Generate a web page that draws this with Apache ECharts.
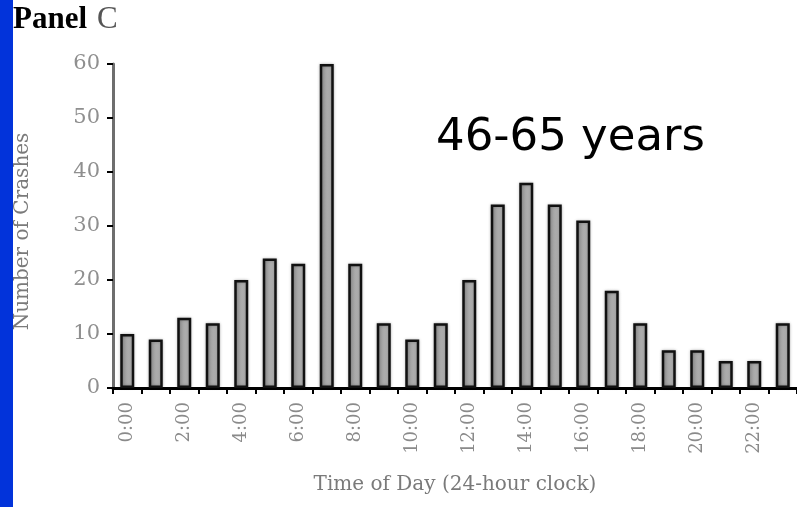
<!DOCTYPE html>
<html>
<head>
<meta charset="utf-8">
<script src="https://cdn.jsdelivr.net/npm/echarts@6/dist/echarts.min.js"></script>
<style>html,body{margin:0;padding:0;background:#fff}#c{width:797px;height:507px}</style>
</head>
<body>
<div id="c"></div>
<script>
const hours = ["0:00","1:00","2:00","3:00","4:00","5:00","6:00","7:00","8:00","9:00","10:00","11:00",
               "12:00","13:00","14:00","15:00","16:00","17:00","18:00","19:00","20:00","21:00","22:00","23:00"];
const crashes = [10, 9, 13, 12, 20, 24, 23, 60, 23, 12, 9, 12, 20, 34, 38, 34, 31, 18, 12, 7, 7, 5, 5, 12];
const yTicks = [0, 10, 20, 30, 40, 50, 60];
const panelWord = "Panel";
const panelLetter = "C";
const ageLabel = "46-65 years";
const xTitle = "Time of Day (24-hour clock)";
const yTitle = "Number of Crashes";

const chart = echarts.init(document.getElementById('c'), null, {renderer: 'canvas'});
chart.setOption({
  animation: false,
  backgroundColor: '#ffffff',
  grid: {left: 113, right: 0, top: 64, bottom: 119, containLabel: false},
  xAxis: {
    type: 'category',
    data: hours,
    boundaryGap: true,
    name: xTitle,
    nameLocation: 'middle',
    nameGap: 87,
    nameTextStyle: {fontFamily: 'DejaVu Serif', fontSize: 20, color: '#7a7a7a'},
    axisLine: {lineStyle: {color: '#000', width: 3}},
    axisTick: {show: true, interval: 0, length: 6, lineStyle: {color: '#000', width: 2}},
    axisLabel: {interval: 1, rotate: 90, margin: 14, fontFamily: 'DejaVu Serif', fontSize: 18, color: '#8a8a8a'},
    splitLine: {show: false}
  },
  yAxis: {
    type: 'value',
    min: yTicks[0],
    max: yTicks[yTicks.length - 1],
    interval: yTicks[1] - yTicks[0],
    name: yTitle,
    nameLocation: 'middle',
    nameGap: 80,
    nameRotate: 90,
    nameTextStyle: {fontFamily: 'DejaVu Serif', fontSize: 20, color: '#7a7a7a', padding: [0, 11, 0, 0]},
    axisLine: {show: true, lineStyle: {color: '#6e6e6e', width: 3}},
    axisTick: {show: true, length: 6, lineStyle: {color: '#000', width: 2}},
    axisLabel: {margin: 13, fontFamily: 'DejaVu Serif', fontSize: 21, color: '#8f8f8f'},
    splitLine: {show: false}
  },
  series: [{
    type: 'bar',
    data: crashes,
    barWidth: 14,
    itemStyle: {
      color: {type: 'linear', x: 0, y: 0, x2: 1, y2: 0,
        colorStops: [{offset: 0, color: '#8c8c8c'}, {offset: 0.5, color: '#aaaaaa'}, {offset: 1, color: '#b4b4b4'}]},
      borderColor: '#111',
      borderWidth: 2.5,
      shadowColor: 'rgba(0,0,0,0.25)',
      shadowBlur: 3
    }
  }],
  graphic: [
    {type: 'rect', left: 0, top: 0, shape: {width: 13, height: 507}, style: {fill: '#0233da'}, z: 10},
    {type: 'text', left: 13, top: 4, z: 10,
      style: {text: panelWord, fontFamily: 'Liberation Serif', fontWeight: 'bold', fontSize: 31, fill: '#000'}},
    {type: 'text', left: 97, top: 4, z: 10,
      style: {text: panelLetter, fontFamily: 'Liberation Serif', fontSize: 31, fill: '#555'}},
    {type: 'text', left: 436, top: 116, z: 10,
      style: {text: ageLabel, fontFamily: 'DejaVu Sans', fontSize: 45, fill: '#000'}}
  ]
});
</script>
</body>
</html>
